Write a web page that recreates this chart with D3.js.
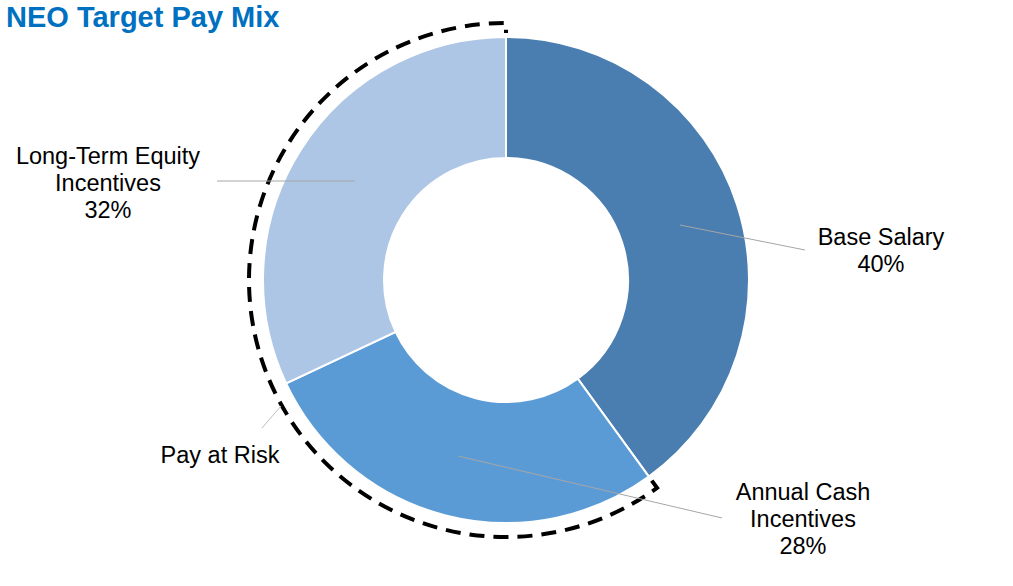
<!DOCTYPE html>
<html><head><meta charset="utf-8">
<script src="https://cdn.jsdelivr.net/npm/d3@7"></script>
<style>body{margin:0;background:#fff}svg{display:block}text{font-family:"Liberation Sans",Arial,sans-serif}</style>
</head><body><svg id="c" width="1013" height="586"></svg>
<script>
const categories = ["Base Salary", "Annual Cash Incentives", "Long-Term Equity Incentives"];
const values = [40, 28, 32];
const labelLines = [["Base Salary","40%"],["Annual Cash","Incentives","28%"],["Long-Term Equity","Incentives","32%"]];
const colors = ["#4A7EB0", "#5B9BD5", "#ADC6E5"];
const riskLabel = "Pay at Risk";

const svg = d3.select("#c");
const cx = 506, cy = 280, rOut = 243, rIn = 122;
svg.append("text").attr("x",6).attr("y",27).attr("font-size",29).attr("font-weight","bold").attr("fill","#0070C0").text("NEO Target Pay Mix");
const g = svg.append("g").attr("transform",`translate(${cx},${cy})`);
const pie = d3.pie().sort(null).value(d=>d)(values);
const arc = d3.arc().innerRadius(rIn).outerRadius(rOut);
g.selectAll("path.s").data(pie).join("path").attr("class","s").attr("d",arc)
 .attr("fill",(d,i)=>colors[i]).attr("stroke","#fff").attr("stroke-width",2);

// dashed bracket over pay at risk slices
const a0 = pie[1].startAngle, a1 = 2*Math.PI;
const rd = 257, rh = 248;
const pt = (a,r)=>[r*Math.sin(a), -r*Math.cos(a)];
const p = d3.path();
p.moveTo(...pt(a0,rh)); p.lineTo(...pt(a0,rd));
p.arc(0,0,rd,a0-Math.PI/2,a1-Math.PI/2,false);
p.lineTo(...pt(a1,rh-1));
g.append("path").attr("d",p.toString()).attr("fill","none").attr("stroke","#000").attr("stroke-width",4).attr("stroke-dasharray","15,9");

// leader lines and labels
const fs = 23.5;
const leaders = [
  {from:[680,225], to:[805,250], tx:881, ty:[237,264]},
  {from:[458,456], to:[722,518], tx:803, ty:[492,519,546]},
  {from:[355,181], to:[217,181], tx:108, ty:[156,183,210]}
];
leaders.forEach((l,i)=>{
  svg.append("line").attr("x1",l.from[0]).attr("y1",l.from[1]).attr("x2",l.to[0]).attr("y2",l.to[1]).attr("stroke","#A6A6A6").attr("stroke-width",1);
  labelLines[i].forEach((t,j)=>svg.append("text").attr("x",l.tx).attr("y",l.ty[j]).attr("dy","0.35em").attr("text-anchor","middle").attr("font-size",fs).attr("fill","#000").text(t));
});
svg.append("line").attr("x1",281).attr("y1",406).attr("x2",262).attr("y2",428).attr("stroke","#BFBFBF").attr("stroke-width",1);
svg.append("text").attr("x",220).attr("y",455).attr("dy","0.35em").attr("text-anchor","middle").attr("font-size",fs).attr("fill","#000").text(riskLabel);
</script></body></html>
